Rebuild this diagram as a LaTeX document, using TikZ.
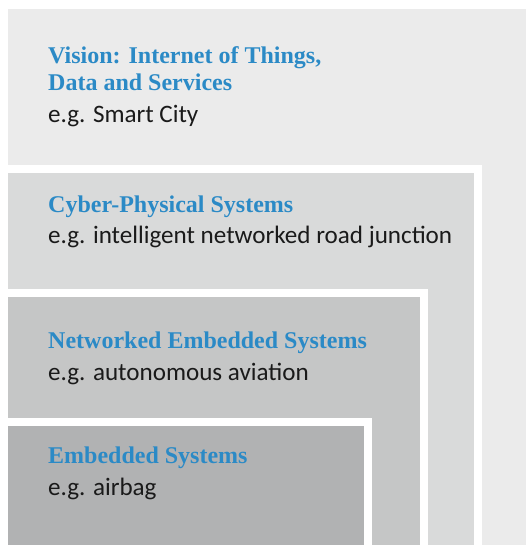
\documentclass[tikz,border=0pt]{standalone}
\usepackage{fontspec}
\setmainfont{Liberation Serif}
\newfontfamily\bodyfont{Carlito}
\definecolor{boxA}{HTML}{EBEBEB}
\definecolor{boxB}{HTML}{D9DADA}
\definecolor{boxC}{HTML}{C5C6C6}
\definecolor{boxD}{HTML}{B1B2B3}
\definecolor{titleblue}{HTML}{2B8AC6}
\definecolor{bodyblack}{HTML}{1A1A1A}
\tikzset{
  title/.style={anchor=base west, inner sep=0pt, text=titleblue, font=\fontsize{24}{27}\selectfont\bfseries},
  example/.style={anchor=base west, inner sep=0pt, text=bodyblack, font=\bodyfont\fontsize{25.1}{28}\selectfont},
}
\begin{document}
\begin{tikzpicture}[x=1pt,y=-1pt]
\useasboundingbox (0,0) rectangle (526,545);
\fill[white] (0,0) rectangle (526,545);
% level 1
\fill[boxA] (8,9.5) rectangle (526,545);
% level 2
\fill[white] (8,165) rectangle (482,545);
\fill[boxB] (8,173) rectangle (474,545);
% level 3
\fill[white] (8,289) rectangle (428,545);
\fill[boxC] (8,297) rectangle (420,545);
% level 4
\fill[white] (8,418) rectangle (372,545);
\fill[boxD] (8,426) rectangle (364,545);

\node[title] (t1a) at (48,63.3) {Vision: Internet of Things,};
\node[title] (t1b) at (48,90.7) {Data and Services};
\node[example] (e1) at (48,122.7) {e.g. Smart City};

\node[title] (t2) at (48,212.7) {Cyber-Physical Systems};
\node[example] (e2) at (48,243.3) {e.g. intelligent networked road junction};

\node[title] (t3) at (48,348.3) {Networked Embedded Systems};
\node[example] (e3) at (48,380) {e.g. autonomous aviation};

\node[title] (t4) at (48,463.3) {Embedded Systems};
\node[example] (e4) at (48,495) {e.g. airbag};
\end{tikzpicture}
\end{document}
